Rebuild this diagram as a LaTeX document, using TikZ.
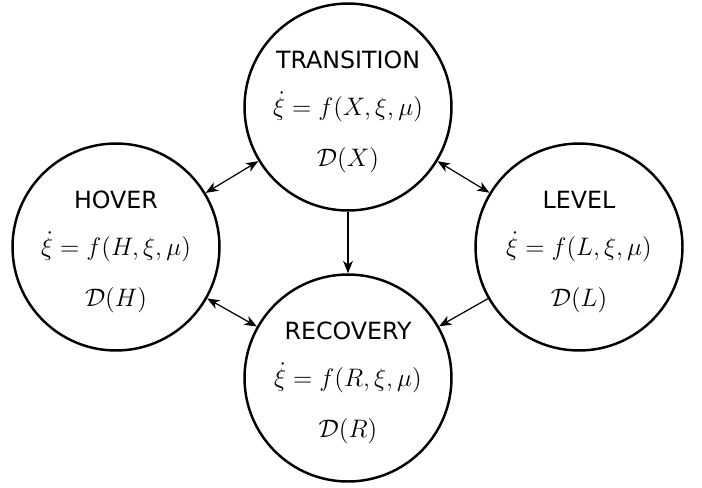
\documentclass[tikz,border=0pt]{standalone}
\usepackage{fontspec}
\newfontfamily\etiqfont{DejaVu Sans}
\usetikzlibrary{arrows.meta}

\begin{document}
\begin{tikzpicture}[x=0.02cm,y=-0.02cm,
    estado/.style={draw,circle,line width=1.4pt,minimum size=4.14cm,inner sep=0pt},
    etiq/.style={inner sep=0.5pt,font=\etiqfont\fontsize{13.5}{16}\selectfont},
    ecu/.style={inner sep=0.5pt,font=\fontsize{15}{18}\selectfont},
    trans/.style={line width=0.7pt,>={Stealth[length=7pt,width=5.5pt,inset=2pt]}}]
  \useasboundingbox (0,0) rectangle (702,487);
  % estados
  \foreach \n/\x/\y/\tit/\s in {T/348/107/TRANSITION/X,H/116/247/HOVER/H,L/579/247/LEVEL/L,R/348/378/RECOVERY/R}{
    \node[estado] (\n) at (\x,\y) {};
    \node[etiq] (\n-tit) at (\x,{\y-47}) {\tit};
    \node[ecu] (\n-eq) at (\x,\y) {$\dot{\xi}=f(\s,\xi,\mu)$};
    \node[ecu] (\n-dom) at (\x,{\y+53}) {$\mathcal{D}(\s)$};
  }
  % transiciones
  \draw[trans,<->] (H) -- (T);
  \draw[trans,<->] (T) -- (L);
  \draw[trans,<->] (H) -- (R);
  \draw[trans,->] (T) -- (R);
  \draw[trans,->] (L) -- (R);
\end{tikzpicture}
\end{document}
